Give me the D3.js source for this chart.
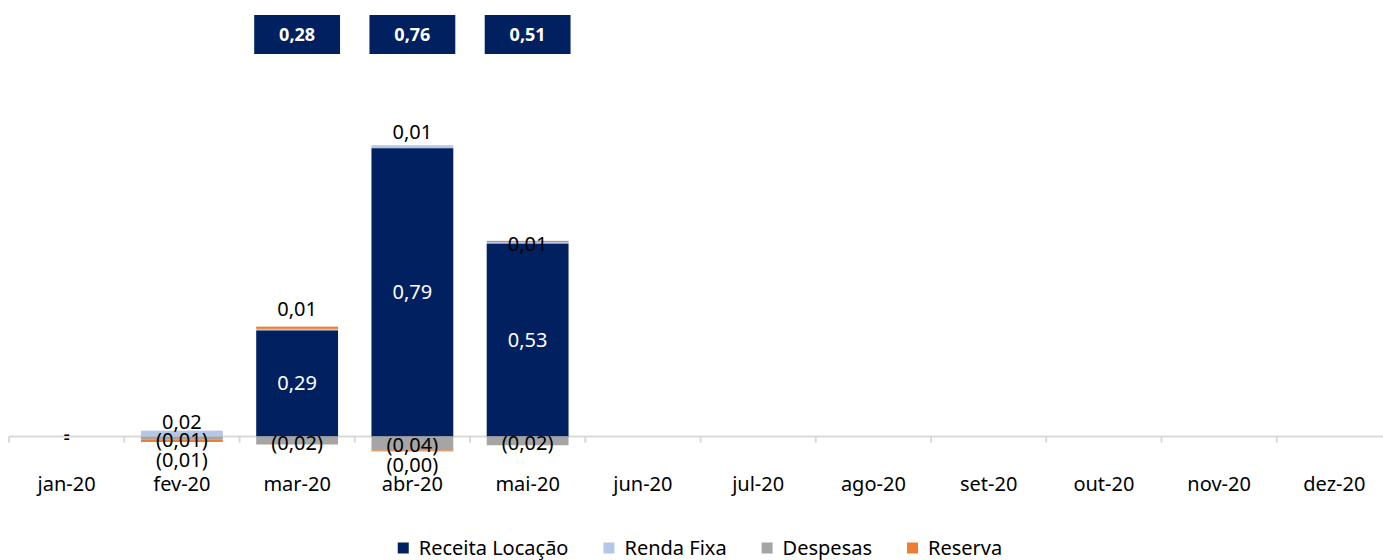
<!DOCTYPE html>
<html><head><meta charset="utf-8">
<script src="https://cdn.jsdelivr.net/npm/d3@7"></script>
<style>
html,body{margin:0;padding:0;background:#fff;}
svg{display:block;font-family:"Noto Sans",sans-serif;}
</style></head>
<body><svg id="c" width="1383" height="560"></svg>
<script>
// ---- data ----
const categories = ["jan-20","fev-20","mar-20","abr-20","mai-20","jun-20","jul-20","ago-20","set-20","out-20","nov-20","dez-20"];
const receitaLocacao = [0, null, 0.291, 0.79, 0.529, null, null, null, null, null, null, null];
const rendaFixa      = [null, 0.016, 0.004, 0.008, 0.006, null, null, null, null, null, null, null];
const despesas       = [0, -0.009, -0.022, -0.038, -0.024, null, null, null, null, null, null, null];
const reserva        = [null, -0.006, 0.006, -0.002, 0.001, null, null, null, null, null, null, null];
const seriesNames = ["Receita Locação","Renda Fixa","Despesas","Reserva"];
const seriesColors = ["#002060","#B4C7E7","#A5A5A5","#ED7D31"];

const seriesValues = [receitaLocacao, rendaFixa, despesas, reserva];
const rows = categories.map((c,i)=>{
  const r = {cat:c};
  seriesNames.forEach((s,j)=>{ r[s] = seriesValues[j][i]; });
  return r;
});

const svg = d3.select("#c");
const x = d3.scaleBand().domain(categories).range([9, 1392]).paddingInner(0.29).paddingOuter(0.145);
const y = d3.scaleLinear().domain([0, 1]).range([436.5, 71.5]);

const stack = d3.stack().keys(seriesNames)
  .value((d,k)=> d[k] == null ? 0 : d[k])
  .offset(d3.stackOffsetDiverging);
const stacked = stack(rows);

function fmt(v){
  if (v === 0) return "-";
  const s = Math.abs(v).toFixed(2).replace(".", ",");
  return v < 0 ? "(" + s + ")" : s;
}

// axis line
svg.append("line").attr("x1",9).attr("x2",1383).attr("y1",y(0)).attr("y2",y(0))
  .attr("stroke","#D9D9D9").attr("stroke-width",2);

// bars
stacked.forEach((layer,li)=>{
  svg.append("g").selectAll("rect").data(layer.filter(d=>d.data[layer.key]!=null && d.data[layer.key]!==0)).join("rect")
    .attr("x", d=>x(d.data.cat))
    .attr("width", x.bandwidth())
    .attr("y", d=>y(Math.max(d[0],d[1])))
    .attr("height", d=>Math.max(1, Math.abs(y(d[0])-y(d[1]))))
    .attr("fill", seriesColors[li]);
});

// ticks at band boundaries
const step = x.step();
const tickXs = categories.map(c=> x(c) - (step - x.bandwidth())/2);
svg.append("g").selectAll("line").data(tickXs).join("line")
  .attr("x1",d=>d).attr("x2",d=>d).attr("y1",y(0)).attr("y2",y(0)+6)
  .attr("stroke","#D9D9D9").attr("stroke-width",2);

// x axis labels
svg.append("g").selectAll("text").data(categories).join("text")
  .attr("x", d=>x(d)+x.bandwidth()/2).attr("y", 484).attr("dy","0.35em")
  .attr("text-anchor","middle").attr("font-size",20).attr("fill","#000").text(d=>d);

// data labels
const nudge = {"Renda Fixa|fev-20":-9, "Reserva|mar-20":-18, "Renda Fixa|abr-20":-13, "Renda Fixa|mai-20":3};
const labels = [];
const despLabelY = {};
stacked.forEach((layer,li)=>{
  layer.forEach(d=>{
    const v = d.data[layer.key];
    if (v == null) return;
    if (v > 0 && v < 0.005) return;
    const cx = x(d.data.cat) + x.bandwidth()/2;
    const top = y(Math.max(d[0],d[1])), bot = y(Math.min(d[0],d[1]));
    let cy, color = "#000";
    const key = layer.key + "|" + d.data.cat;
    if (v === 0) {
      cy = y(0) + (li === 0 ? -2.5 : 1.5);
    } else if (bot - top > 24) {
      cy = (top+bot)/2; color = "#fff";
    } else if (v > 0) {
      cy = top + (nudge[key] != null ? nudge[key] : -12);
    } else if (layer.key === "Despesas") {
      cy = (top+bot)/2 + 2;
      despLabelY[d.data.cat] = cy;
    } else {
      cy = (despLabelY[d.data.cat] != null ? despLabelY[d.data.cat] : bot) + 20;
    }
    labels.push({t: fmt(v), cx, cy, color});
  });
});
svg.append("g").selectAll("text").data(labels).join("text")
  .attr("x", d=>d.cx).attr("y", d=>d.cy).attr("dy","0.35em")
  .attr("text-anchor","middle").attr("font-size", 20)
  .attr("fill", d=>d.color).text(d=>d.t);

// total boxes
const totals = rows.map(r=>({cat:r.cat, show: r["Receita Locação"]>0,
  total: seriesNames.reduce((a,s)=>a+(r[s]||0),0)})).filter(d=>d.show);
const tb = svg.append("g").selectAll("g").data(totals).join("g");
tb.append("rect").attr("x", d=>x(d.cat)-2).attr("width", x.bandwidth()+4)
  .attr("y", 15).attr("height", 39).attr("fill","#002060");
tb.append("text").attr("x", d=>x(d.cat)+x.bandwidth()/2).attr("y", 35).attr("dy","0.35em")
  .attr("text-anchor","middle").attr("font-size",18).attr("font-weight","bold").attr("fill","#fff")
  .text(d=>d.total.toFixed(2).replace(".",","));

// legend
const lg = svg.append("g");
const items = lg.selectAll("g").data(seriesNames).join("g");
items.append("rect").attr("width",11).attr("height",11).attr("y",-5.5).attr("fill",(d,i)=>seriesColors[i]);
items.append("text").attr("x",21).attr("dy","0.35em").attr("font-size",20).attr("fill","#000").text(d=>d);
let lx = 0;
const gap = 35;
items.each(function(){
  const w = this.getBBox().width;
  d3.select(this).attr("transform",`translate(${lx},0)`);
  lx += w + gap;
});
const totalW = lx - gap;
lg.attr("transform",`translate(${700 - totalW/2},548)`);
</script></body></html>
